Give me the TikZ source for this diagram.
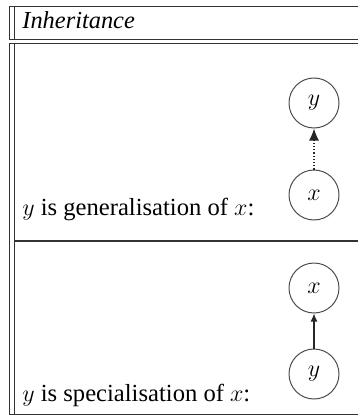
\documentclass[tikz,border=0pt]{standalone}
\usepackage{fontspec}
\setmainfont{Liberation Serif}
\usetikzlibrary{arrows.meta,positioning}

\begin{document}
\begin{tikzpicture}[x=0.5pt,y=-0.5pt,
  rule/.style={draw=black!80,line width=0.8pt},
  vertex/.style={draw=black!70,circle,line width=0.5pt,minimum size=25pt,
    inner sep=0pt,font=\fontsize{12}{14}\selectfont},
  rowtext/.style={anchor=base west,inner sep=0pt,font=\fontsize{12.3}{14}\selectfont},
  link/.style={draw=black!85,line width=0.6pt}
]
  \useasboundingbox (0,0) rectangle (358,417);
  % Title row
  \draw[rule] (358,6.5) -- (9.5,6.5) -- (9.5,39.5) -- (358,39.5);
  \draw[rule] (14.5,6.5) -- (14.5,39.5);
  \node[rowtext,font=\fontsize{12.2}{14}\selectfont\itshape] (title) at (22,29) {Inheritance};
  % Table body
  \draw[rule] (358,43.5) -- (9.5,43.5) -- (9.5,414.5) -- (358,414.5);
  \draw[rule] (14.5,43.5) -- (14.5,414.5);
  \draw[rule] (14.5,241) -- (358,241);
  % Generalisation
  \node[rowtext] (gentext) at (22,215) {$y$ is generalisation of $x$:};
  \node[vertex] (gy) at (314,103) {$y$};
  \node[vertex] (gx) at (314,195) {$x$};
  \draw[link,densely dotted,-{Latex[length=6pt,width=5pt]}] (gx) -- (gy);
  % Specialisation
  \node[rowtext] (spectext) at (22,401) {$y$ is specialisation of $x$:};
  \node[vertex] (sx) at (314,288) {$x$};
  \node[vertex] (sy) at (314,374) {$y$};
  \draw[link,-{Latex[length=4pt,width=3.5pt]}] (sy) -- (sx);
\end{tikzpicture}
\end{document}
